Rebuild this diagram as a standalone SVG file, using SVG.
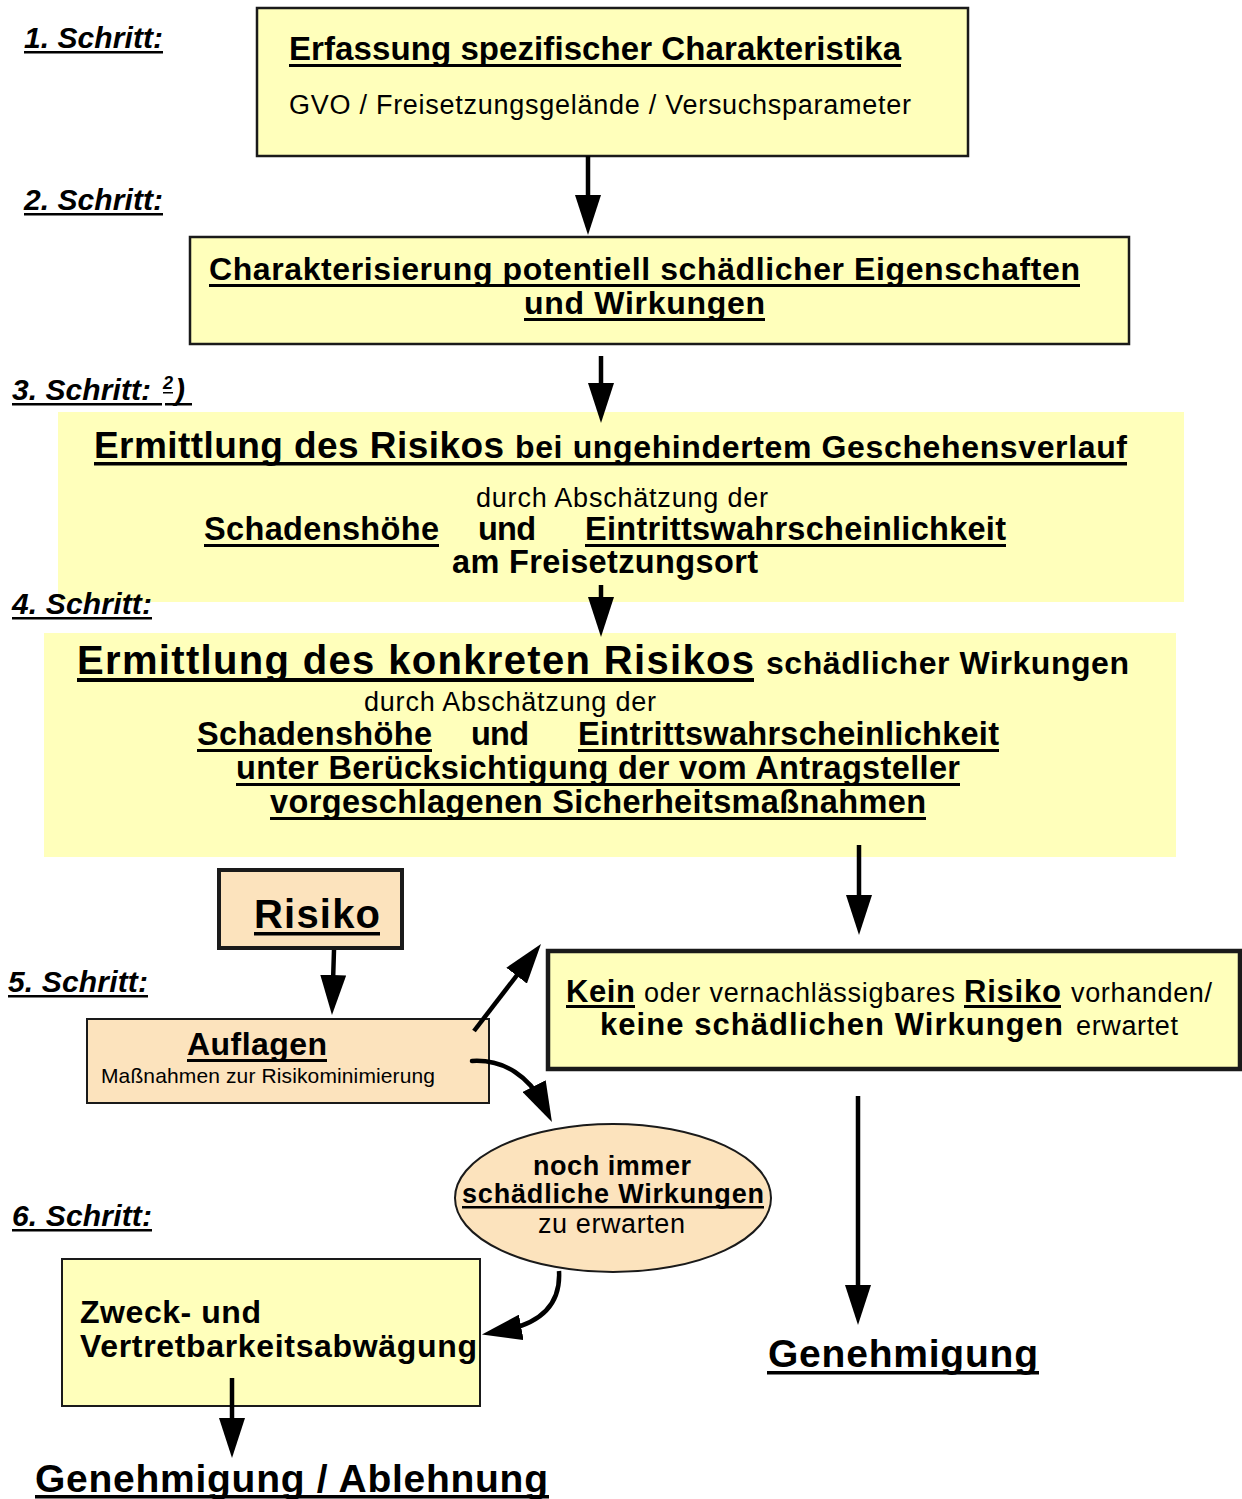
<svg xmlns="http://www.w3.org/2000/svg" width="1242" height="1499" viewBox="0 0 1242 1499">
<defs>
<style>
text{font-family:"Liberation Sans",Arial,Helvetica,sans-serif;fill:#000}
.b{font-weight:bold}
.r{font-weight:normal}
.bi{font-weight:bold;font-style:italic;font-size:30px}
.ul{fill:#000}
.yel{fill:#FFFFBB}
.pch{fill:#FCE3BD}
.bx{stroke:#1a1a1a}
.con{stroke:#000;stroke-width:4.5;fill:none;marker-end:url(#ah)}
</style>
<marker id="ah" markerUnits="userSpaceOnUse" viewBox="0 0 40 26" markerWidth="40" markerHeight="26" refX="20" refY="13" orient="auto">
<path d="M0,0 L40,13 L0,26 Z" fill="#000"/>
</marker>
</defs>
<rect width="1242" height="1499" fill="#fff"/>

<g id="schritt3">
<rect class="yel" x="58" y="412" width="1126" height="190"/>
<text class="b" x="94" y="458" font-size="37" textLength="410">Ermittlung des Risikos</text>
<text class="b" x="515" y="458" font-size="32" textLength="612">bei ungehindertem Geschehensverlauf</text>
<rect class="ul" x="94" y="462" width="1033" height="3.5"/>
<text class="r" x="476" y="507" font-size="27" textLength="292">durch Abschätzung der</text>
<text class="b" x="204" y="540" font-size="32.5" textLength="235">Schadenshöhe</text>
<rect class="ul" x="204" y="544" width="235" height="3"/>
<text class="b" x="478" y="540" font-size="32.5" textLength="58">und</text>
<text class="b" x="585" y="540" font-size="32.5" textLength="421">Eintrittswahrscheinlichkeit</text>
<rect class="ul" x="585" y="544" width="421" height="3"/>
<text class="b" x="452" y="573" font-size="32.5" textLength="306">am Freisetzungsort</text>
</g>

<g id="schritt4">
<rect class="yel" x="44" y="633" width="1132" height="224"/>
<text class="b" x="77" y="674" font-size="40" textLength="677">Ermittlung des konkreten Risikos</text>
<rect class="ul" x="77" y="678" width="677" height="4"/>
<text class="b" x="766" y="674" font-size="32" textLength="363">schädlicher Wirkungen</text>
<text class="r" x="364" y="711" font-size="27" textLength="292">durch Abschätzung der</text>
<text class="b" x="197" y="745" font-size="32.5" textLength="235">Schadenshöhe</text>
<rect class="ul" x="197" y="749" width="235" height="3"/>
<text class="b" x="471" y="745" font-size="32.5" textLength="58">und</text>
<text class="b" x="578" y="745" font-size="32.5" textLength="421">Eintrittswahrscheinlichkeit</text>
<rect class="ul" x="578" y="749" width="421" height="3"/>
<text class="b" x="236" y="779" font-size="32.5" textLength="724">unter Berücksichtigung der vom Antragsteller</text>
<rect class="ul" x="236" y="783" width="724" height="3"/>
<text class="b" x="270" y="813" font-size="32.5" textLength="656">vorgeschlagenen Sicherheitsmaßnahmen</text>
<rect class="ul" x="270" y="817" width="656" height="3"/>
</g>

<g id="labels">
<text class="bi" x="24" y="48" textLength="139">1. Schritt:</text>
<rect class="ul" x="24" y="51" width="139" height="2.5"/>
<text class="bi" x="24" y="210" textLength="139">2. Schritt:</text>
<rect class="ul" x="24" y="213" width="139" height="2.5"/>
<text class="bi" x="12" y="400" textLength="139">3. Schritt:</text>
<rect class="ul" x="12" y="403" width="150" height="2.5"/>
<text class="bi" x="163" y="389" style="font-size:18px">2</text>
<rect class="ul" x="163" y="392" width="10" height="1.5"/>
<text class="bi" x="175" y="400">)</text>
<rect class="ul" x="165" y="403" width="27" height="2.5"/>
<text class="bi" x="12" y="614" textLength="140">4. Schritt:</text>
<rect class="ul" x="12" y="617" width="140" height="2.5"/>
<text class="bi" x="8" y="992" textLength="140">5. Schritt:</text>
<rect class="ul" x="8" y="995" width="140" height="2.5"/>
<text class="bi" x="12" y="1226" textLength="140">6. Schritt:</text>
<rect class="ul" x="12" y="1229" width="140" height="2.5"/>
</g>

<g id="schritt1">
<rect class="yel bx" x="257" y="8" width="711" height="148" stroke-width="2.5"/>
<text class="b" x="289" y="60" font-size="33" textLength="612">Erfassung spezifischer Charakteristika</text>
<rect class="ul" x="289" y="64" width="612" height="3"/>
<text class="r" x="289" y="114" font-size="27" textLength="622">GVO / Freisetzungsgelände / Versuchsparameter</text>
</g>

<g id="schritt2">
<rect class="yel bx" x="190" y="237" width="939" height="107" stroke-width="2.5"/>
<text class="b" x="209" y="280" font-size="32" textLength="871">Charakterisierung potentiell schädlicher Eigenschaften</text>
<rect class="ul" x="209" y="284" width="871" height="3"/>
<text class="b" x="524" y="314" font-size="32" textLength="241">und Wirkungen</text>
<rect class="ul" x="524" y="318" width="241" height="3"/>
</g>

<g id="risiko">
<rect class="pch bx" x="219" y="870" width="183" height="78" stroke-width="4"/>
<text class="b" x="254" y="928" font-size="40" textLength="126">Risiko</text>
<rect class="ul" x="254" y="932" width="126" height="3.5"/>
</g>

<g id="auflagen">
<rect class="pch bx" x="87" y="1019" width="402" height="84" stroke-width="2"/>
<text class="b" x="187" y="1055" font-size="32" textLength="140">Auflagen</text>
<rect class="ul" x="187" y="1059" width="140" height="3"/>
<text class="r" x="101" y="1083" font-size="21" textLength="334">Maßnahmen zur Risikominimierung</text>
</g>

<g id="kein-risiko">
<rect class="yel bx" x="548" y="951" width="692" height="118" stroke-width="4.5"/>
<text class="b" x="566" y="1002" font-size="31" textLength="69">Kein</text>
<rect class="ul" x="566" y="1005" width="69" height="3"/>
<text class="r" x="644" y="1002" font-size="27" textLength="311">oder vernachlässigbares</text>
<text class="b" x="964" y="1002" font-size="31" textLength="97">Risiko</text>
<rect class="ul" x="964" y="1005" width="97" height="3"/>
<text class="r" x="1071" y="1002" font-size="27" textLength="141">vorhanden/</text>
<text class="b" x="600" y="1035" font-size="31" textLength="463">keine schädlichen Wirkungen</text>
<text class="r" x="1076" y="1035" font-size="27" textLength="102">erwartet</text>
</g>

<g id="noch-immer">
<ellipse class="pch bx" cx="613" cy="1198" rx="158" ry="74" stroke-width="2"/>
<text class="b" x="533" y="1175" font-size="27" textLength="158">noch immer</text>
<text class="b" x="462" y="1203" font-size="27" textLength="302">schädliche Wirkungen</text>
<rect class="ul" x="462" y="1206" width="302" height="2.5"/>
<text class="r" x="538" y="1233" font-size="27" textLength="147">zu erwarten</text>
</g>

<g id="abwaegung">
<rect class="yel bx" x="62" y="1259" width="418" height="147" stroke-width="2"/>
<text class="b" x="80" y="1323" font-size="32" textLength="181">Zweck- und</text>
<text class="b" x="80" y="1357" font-size="32" textLength="397">Vertretbarkeitsabwägung</text>
</g>

<g id="genehmigung">
<text class="b" x="768" y="1367" font-size="39" textLength="270">Genehmigung</text>
<rect class="ul" x="767" y="1371" width="272" height="3.5"/>
</g>

<g id="genehmigung-ablehnung">
<text class="b" x="35" y="1492" font-size="39" textLength="513">Genehmigung / Ablehnung</text>
<rect class="ul" x="35" y="1495" width="514" height="3.5"/>
</g>

<g id="connectors">
<path class="con" d="M588,156 L588,215"/>
<path class="con" d="M601,356 L601,403"/>
<path class="con" d="M601,585 L601,617"/>
<path class="con" d="M859,845 L859,915"/>
<path class="con" d="M334,950 L332.6,995"/>
<path class="con" d="M474,1031 L528.8,959.8"/>
<path class="con" d="M472,1061 C505,1059 530,1078 543,1104" stroke-linecap="round"/>
<path class="con" d="M559,1271 C561,1305 540,1324 501.6,1331"/>
<path class="con" d="M858,1096 L858,1305"/>
<path class="con" d="M232,1378 L232,1438"/>
</g>
</svg>
